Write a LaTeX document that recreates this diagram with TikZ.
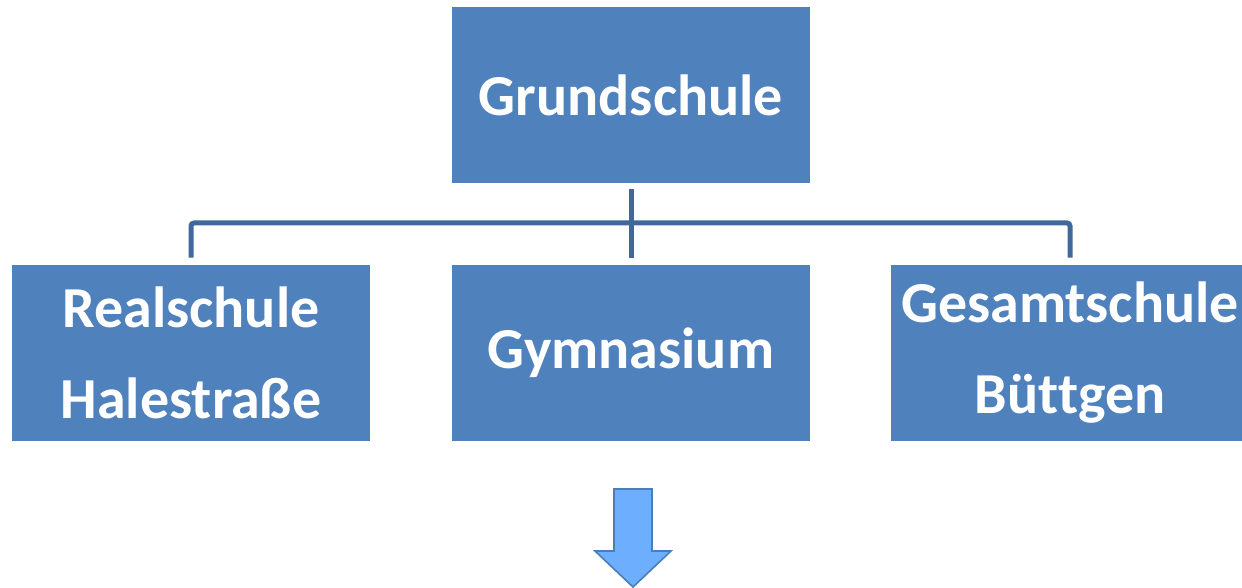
\documentclass[tikz,border=0pt]{standalone}
\usepackage{fontspec}
\setmainfont[Ligatures=NoCommon]{Carlito}
\definecolor{boxblue}{HTML}{4F81BD}
\definecolor{linkblue}{HTML}{41689A}
\definecolor{arrowfill}{HTML}{6DAEFF}
\definecolor{arrowline}{HTML}{4A7EBB}
\tikzset{
    school/.style={rectangle, fill=boxblue, text=white, minimum width=358pt*0.5,
                   minimum height=176pt*0.5, inner sep=0pt, align=center,
                   font=\fontsize{29}{45.5}\selectfont\bfseries},
    link/.style={draw=linkblue, line width=2.5pt, rounded corners=1.5pt}
}
\begin{document}
\begin{tikzpicture}[x=0.5pt,y=-0.5pt]
    \useasboundingbox (0,0) rectangle (1242,588);

    \node[school] (grund) at (631,95.5) {Grundschule};

    \foreach \name/ \x/ \txt in {real/191/{Realschule\\Halestra\ss e},
                                  gym/631/{Gymnasium},
                                  gesamt/1070/{Gesamtschule\\B\"ut\kern0pt tgen}}
        \node[school] (\name) at (\x,353) {\txt};

    \coordinate (bar) at (631,223);
    \path[link, shorten <=2.5pt, shorten >=3.5pt] (grund) -- (gym);
    \path[link, shorten <=3.5pt, shorten >=3.5pt] (real.north) |- (bar) -| (gesamt.north);

    \path[draw=arrowline, fill=arrowfill, line width=0.8pt, line join=miter]
        (614,489) -- (652,489) -- (652,551) -- (671,551) -- (633,587)
        -- (595,551) -- (614,551) -- cycle;

\end{tikzpicture}
\end{document}
